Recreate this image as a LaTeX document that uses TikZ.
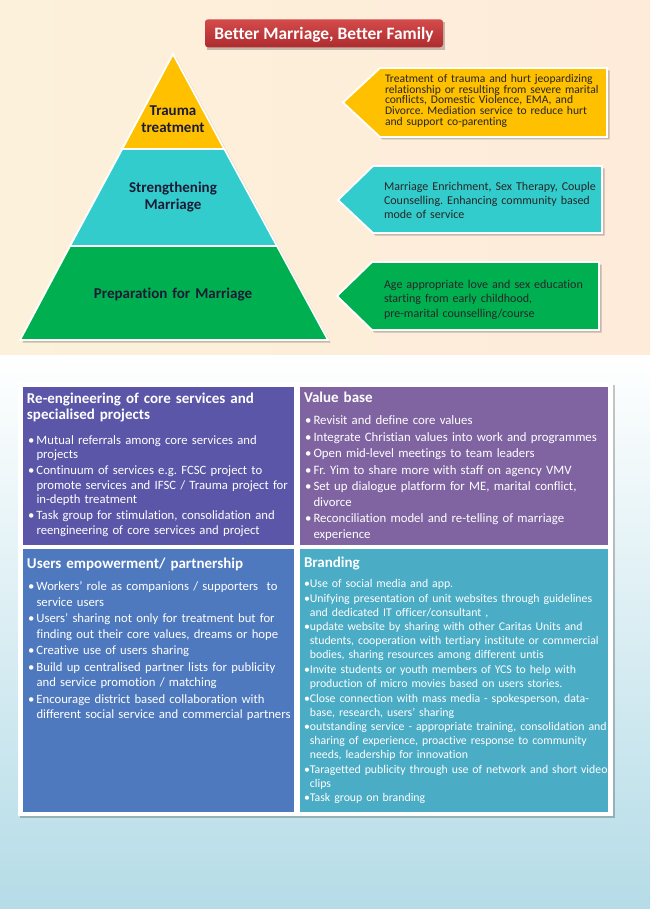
\documentclass[tikz,border=0pt]{standalone}
\usepackage{fontspec}
\setmainfont{Carlito}[Ligatures={NoCommon}]
\frenchspacing
\definecolor{creamL}{HTML}{FCF1DA}
\definecolor{creamR}{HTML}{FEEBDA}
\definecolor{bluebot}{HTML}{B5DCE7}
\definecolor{tyellow}{HTML}{FFC000}
\definecolor{tcyan}{HTML}{33CCCC}
\definecolor{tgreen}{HTML}{00B050}
\definecolor{redtop}{HTML}{D44B4B}
\definecolor{redbot}{HTML}{AE2B2E}
\definecolor{pone}{HTML}{5B56A8}
\definecolor{ptwo}{HTML}{8064A2}
\definecolor{pthree}{HTML}{4F79BE}
\definecolor{pfour}{HTML}{4BACC6}
\definecolor{darktxt}{HTML}{262626}
\definecolor{pyrtxt}{HTML}{1B1B35}
\newlength\bulw
\newcommand{\bitm}[1]{\par\hangindent=8.5pt\hangafter=1\noindent\hbox to 8.5pt{\textbullet\hss}#1}
\newcommand{\bitb}[1]{\par\settowidth\bulw{\textbullet}\hangindent=\bulw\hangafter=1\noindent\textbullet#1}
\newcommand{\fr}{\rule{0pt}{14pt}}
\tikzset{
  txt/.style={inner sep=0pt, outer sep=0pt},
  block/.style={txt, anchor=north west, text width=330pt, align=left},
  head/.style={block, text=white, font=\bfseries\fontsize{15}{16.5}\selectfont},
  listA/.style={block, text=white, font=\fontsize{12.7}{14.3}\selectfont},
  arrowtxt/.style={block, text=darktxt, font=\fontsize{12}{14}\selectfont},
  pyr/.style={txt, anchor=north, text width=160pt, align=center, text=pyrtxt, font=\bfseries\fontsize{15}{16.5}\selectfont},
  tierline/.style={draw=white, line width=1.8pt},
  shadowfill/.style={fill=black, opacity=0.22},
}
\begin{document}
\begin{tikzpicture}[x=1pt,y=-1pt]
\useasboundingbox (0,0) rectangle (650,909);
% backgrounds
\shade[left color=creamL, right color=creamR] (0,0) rectangle (650,355);
\shade[top color=white, bottom color=bluebot] (0,355) rectangle (650,909);

% title
\fill[shadowfill] (207,22) rectangle (445,50);
\node[txt, draw=none, rounded corners=3pt, top color=redtop, bottom color=redbot,
      minimum width=238pt, minimum height=28pt] (titlebox) at (324,33.3) {};
\node[txt, anchor=base, text=white, font=\bfseries\fontsize{17.4}{20}\selectfont] (title) at (324,40) {Better Marriage, Better Family};

% pyramid shadow
\begin{scope}[shift={(2.5,2.5)}]
\fill[shadowfill] (173,54) -- (328,340) -- (20,340) -- cycle;
\end{scope}
\fill[tyellow] (173,54) -- (224.3,149) -- (122.2,149) -- cycle;
\fill[tcyan] (122.2,149) -- (224.3,149) -- (277,246) -- (70,246) -- cycle;
\fill[tgreen] (70,246) -- (277,246) -- (328,340) -- (20,340) -- cycle;
\draw[tierline] (173,54) -- (224.3,149) -- (122.2,149) -- cycle;
\draw[tierline] (122.2,149) -- (224.3,149) -- (277,246) -- (70,246) -- cycle;
\draw[tierline] (70,246) -- (277,246) -- (328,340) -- (20,340) -- cycle;
\node[pyr] (trauma) at (173,102) {\fr Trauma\\treatment};
\node[pyr] (strength) at (173,179) {\fr Strengthening\\Marriage};
\node[pyr] (prep) at (173,284) {\fr Preparation for Marriage};

% arrow boxes
\begin{scope}[shift={(2.5,2.5)}]
\fill[shadowfill] (343,102.5) -- (380,68) -- (607,68) -- (607,137) -- (380,137) -- cycle;
\fill[shadowfill] (338,200) -- (373,166) -- (602,166) -- (602,233) -- (373,233) -- cycle;
\fill[shadowfill] (337,296) -- (372,262) -- (599,262) -- (599,330) -- (372,330) -- cycle;
\end{scope}
\filldraw[fill=tyellow, tierline] (343,102.5) -- (380,68) -- (607,68) -- (607,137) -- (380,137) -- cycle;
\filldraw[fill=tcyan, tierline] (338,200) -- (373,166) -- (602,166) -- (602,233) -- (373,233) -- cycle;
\filldraw[fill=tgreen, tierline] (337,296) -- (372,262) -- (599,262) -- (599,330) -- (372,330) -- cycle;
\node[arrowtxt, font=\fontsize{11.6}{10.7}\selectfont] (ytxt) at (385,68.5) {\fr Treatment of trauma and hurt jeopardizing\\relationship or resulting from severe marital\\conflicts, Domestic Violence, EMA, and\\Divorce. Mediation service to reduce hurt\\and support co-parenting};
\node[arrowtxt] (ctxt) at (384,177) {\fr Marriage Enrichment, Sex Therapy, Couple\\Counselling. Enhancing community based\\mode of service};
\node[arrowtxt, font=\fontsize{12}{14.5}\selectfont] (gtxt) at (384,274) {\fr Age appropriate love and sex education\\starting from early childhood,\\pre-marital counselling/course};

% panel frame
\fill[shadowfill] (20,385) rectangle (615,818);
\fill[white] (18,383) rectangle (613,816);
\fill[pone] (23,387) rectangle (294,545);
\fill[ptwo] (300,387) rectangle (608,545);
\fill[pthree] (23,549) rectangle (294,812);
\fill[pfour] (300,549) rectangle (608,812);

% panel 1
\node[head] (h1) at (27,389) {\fr Re-engineering of core services and\\specialised projects};
\node[listA] (l1) at (28,428) {\setlength\parskip{2pt}%
\bitm{\fr Mutual referrals among core services and\newline projects}%
\bitm{Continuum of services e.g. FCSC project to\newline promote services and IFSC / Trauma project for\newline in-depth treatment}%
\bitm{Task group for stimulation, consolidation and\newline reengineering of core services and project}\par};

% panel 2
\node[head] (h2) at (304,388) {\fr Value base};
\node[listA, font=\fontsize{12.8}{15.5}\selectfont] (l2) at (305,408) {\setlength\parskip{1pt}%
\bitm{\fr Revisit and define core values}%
\bitm{Integrate Christian values into work and programmes}%
\bitm{Open mid-level meetings to team leaders}%
\bitm{Fr. Yim to share more with staff on agency VMV}%
\bitm{Set up dialogue platform for ME, marital conflict,\newline divorce}%
\bitm{Reconciliation model and re-telling of marriage\newline experience}\par};

% panel 3
\node[head] (h3) at (27,554) {\fr Users empowerment/ partnership};
\node[listA, font=\fontsize{12.7}{15.2}\selectfont] (l3) at (28,574) {\setlength\parskip{1.6pt}%
\bitm{\fr Workers' role as companions / supporters\ \ to\newline service users}%
\bitm{Users' sharing not only for treatment but for\newline finding out their core values, dreams or hope}%
\bitm{Creative use of users sharing}%
\bitm{Build up centralised partner lists for publicity\newline and service promotion / matching}%
\bitm{Encourage district based collaboration with\newline different social service and commercial partners}\par};

% panel 4
\node[head] (h4) at (304,553) {\fr Branding};
\node[listA, font=\fontsize{11.8}{14}\selectfont] (l4) at (304,573) {\setlength\parskip{0.6pt}%
\bitb{\fr Use of social media and app.}%
\bitb{Unifying presentation of unit websites through guidelines\newline and dedicated IT officer/consultant ,}%
\bitb{update website by sharing with other Caritas Units and\newline students, cooperation with tertiary institute or commercial\newline bodies, sharing resources among different untis}%
\bitb{Invite students or youth members of YCS to help with\newline production of micro movies based on users stories.}%
\bitb{Close connection with mass media - spokesperson, data-\newline base, research, users' sharing}%
\bitb{outstanding service - appropriate training, consolidation and\newline sharing of experience, proactive response to community\newline needs, leadership for innovation}%
\bitb{Taragetted publicity through use of network and short video\newline clips}%
\bitb{Task group on branding}\par};
\end{tikzpicture}
\end{document}
